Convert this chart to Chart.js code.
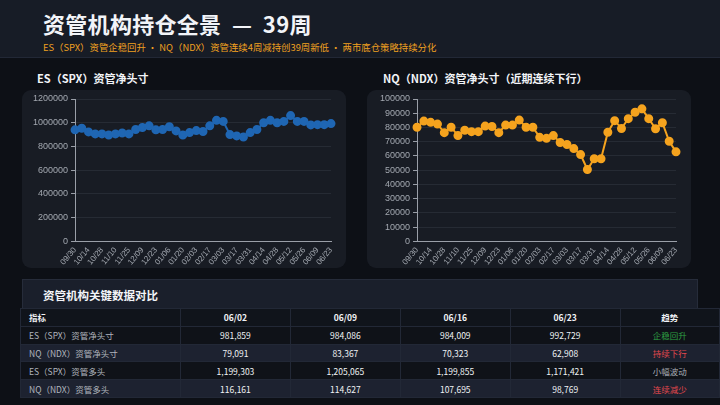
<!DOCTYPE html>
<html>
<head>
<meta charset="utf-8">
<script src="https://cdn.jsdelivr.net/npm/chart.js@4.4.0/dist/chart.umd.min.js"></script>
<style>
  * { margin: 0; padding: 0; box-sizing: border-box; }
  body {
    width: 720px; height: 405px; overflow: hidden;
    background: #0d1016;
    font-family: "Noto Sans CJK SC", "Noto Sans", sans-serif;
    position: relative;
  }
  .header {
    position: absolute; left: 0; top: 0; width: 720px; height: 58px;
    background: #171c26; border-bottom: 1px solid #222836;
  }
  .title {
    position: absolute; left: 43px; top: 7px;
    color: #f2f4f8; font-size: 22px; font-weight: 700; letter-spacing: 0.3px;
  }
  .subtitle {
    position: absolute; left: 43px; top: 40px;
    color: #f0a020; font-size: 9.4px;
  }
  .sec-title {
    position: absolute; top: 70px;
    color: #f2f4f8; font-size: 11px; font-weight: 700;
  }
  .panel {
    position: absolute; top: 90px; width: 324px; height: 178px;
    background: #181c24; border-radius: 9px;
  }
  .box {
    position: absolute; left: 22px; top: 279px; width: 676px; height: 30px;
    background: #1a1f2b; border: 1px solid #262c3a;
  }
  .box span {
    position: absolute; left: 20px; top: 7px;
    color: #f2f4f8; font-size: 11.5px; font-weight: 700;
  }
  table {
    position: absolute; left: 20px; top: 308px; width: 700px;
    border-collapse: collapse; font-size: 8.5px; color: #f0f2f5;
  }
  td, th {
    height: 17.8px; text-align: center; border: 1px solid #222836;
  }
  th { background: #10141b; font-weight: 700; }
  td:first-child, th:first-child { text-align: left; padding-left: 8px; width: 160px; }
  td:first-child { color: #b0b5bd; }
  tr.odd td { background: #0f1218; }
  tr.even td { background: #1d2230; }
</style>
</head>
<body>
<div class="header">
  <div class="title">资管机构持仓全景 &nbsp;—&nbsp; 39周</div>
  <div class="subtitle">ES（SPX）资管企稳回升 · NQ（NDX）资管连续4周减持创39周新低 · 两市底仓策略持续分化</div>
</div>

<div class="sec-title" style="left:37px">ES（SPX）资管净头寸</div>
<div class="sec-title" style="left:383px">NQ（NDX）资管净头寸（近期连续下行）</div>

<div class="panel" style="left:22px"><canvas id="esChart"></canvas></div>
<div class="panel" style="left:367px"><canvas id="nqChart"></canvas></div>

<div class="box"><span>资管机构关键数据对比</span></div>
<table id="tbl"></table>

<script>
// weekly dates
const weeks = ['09/30','10/07','10/14','10/21','10/28','11/04','11/10','11/18','11/25','12/02',
  '12/09','12/16','12/23','12/30','01/06','01/13','01/20','01/27','02/03','02/10',
  '02/17','02/24','03/03','03/10','03/17','03/24','03/31','04/07','04/14','04/21',
  '04/28','05/05','05/12','05/19','05/26','06/02','06/09','06/16','06/23'];

// ES (SPX) asset manager net position
const esNet = [940000, 954000, 923000, 906000, 906000, 897000, 906000, 914000, 906000, 943000,
  960000, 974000, 940000, 943000, 966000, 931000, 897000, 917000, 934000, 926000,
  974000, 1020000, 1011000, 900000, 889000, 880000, 917000, 943000, 1000000, 1020000,
  1000000, 1011000, 1060000, 1011000, 1011000, 981859, 984086, 984009, 992729];

// NQ (NDX) asset manager net position
const nqNet = [80200, 84500, 83600, 82400, 76400, 80200, 74300, 78100, 77100, 77100,
  81000, 80700, 76400, 81700, 81700, 85200, 80200, 80200, 73100, 72400,
  74300, 69500, 68100, 65200, 61000, 50500, 58100, 58100, 76700, 84800,
  79300, 86200, 90700, 93100, 86200, 79091, 83367, 70323, 62908];

// table
const tableDates = ['06/02', '06/09', '06/16', '06/23'];
const rowNames = ['ES（SPX）资管净头寸', 'NQ（NDX）资管净头寸', 'ES（SPX）资管多头', 'NQ（NDX）资管多头'];
const rowValues = [
  [981859, 984086, 984009, 992729],
  [79091, 83367, 70323, 62908],
  [1199303, 1205065, 1199855, 1171421],
  [116161, 114627, 107695, 98769]
];
const trends = ['企稳回升', '持续下行', '小幅波动', '连续减少'];
const trendColors = ['#2ea043', '#e5484d', '#a8adb5', '#e5484d'];

let html = '<tr><th>指标</th>' + tableDates.map(d => '<th>' + d + '</th>').join('') + '<th>趋势</th></tr>';
rowNames.forEach((name, i) => {
  html += '<tr class="' + (i % 2 == 0 ? 'odd' : 'even') + '"><td>' + name + '</td>';
  rowValues[i].forEach(v => { html += '<td>' + v.toLocaleString('en-US') + '</td>'; });
  html += '<td style="color:' + trendColors[i] + '">' + trends[i] + '</td></tr>';
});
document.getElementById('tbl').innerHTML = html;

Chart.defaults.font.family = '"Liberation Sans", "Noto Sans", sans-serif';
Chart.defaults.color = '#a3a8b0';

function makeChart(id, data, color, max, step, padLeft) {
  new Chart(document.getElementById(id), {
    type: 'line',
    data: {
      labels: weeks,
      datasets: [{
        data: data,
        borderColor: color,
        backgroundColor: color,
        borderWidth: 2,
        pointRadius: 3.5,
        pointHoverRadius: 3.5,
        tension: 0
      }]
    },
    options: {
      responsive: true,
      maintainAspectRatio: false,
      animation: false,
      layout: { padding: { left: padLeft, right: 15, top: 9, bottom: 1 } },
      plugins: { legend: { display: false }, tooltip: { enabled: false } },
      scales: {
        x: {
          grid: { display: false, drawTicks: true, tickColor: '#9a9fa8', tickLength: 4 },
          border: { color: '#9a9fa8' },
          ticks: {
            autoSkip: false,
            maxRotation: 50, minRotation: 50,
            font: { size: 8 },
            padding: 0,
            callback: function(val, i) { return i % 2 == 0 ? this.getLabelForValue(val) : ''; }
          }
        },
        y: {
          min: 0, max: max,
          grid: { color: '#262b34', tickColor: '#9a9fa8', tickLength: 4 },
          border: { color: '#9a9fa8' },
          ticks: { stepSize: step, font: { size: 9 }, padding: 3, callback: v => String(v) }
        }
      }
    }
  });
}

makeChart('esChart', esNet, '#1f66b3', 1200000, 200000, 8);
makeChart('nqChart', nqNet, '#f5a31e', 100000, 10000, 10);
</script>
</body>
</html>
